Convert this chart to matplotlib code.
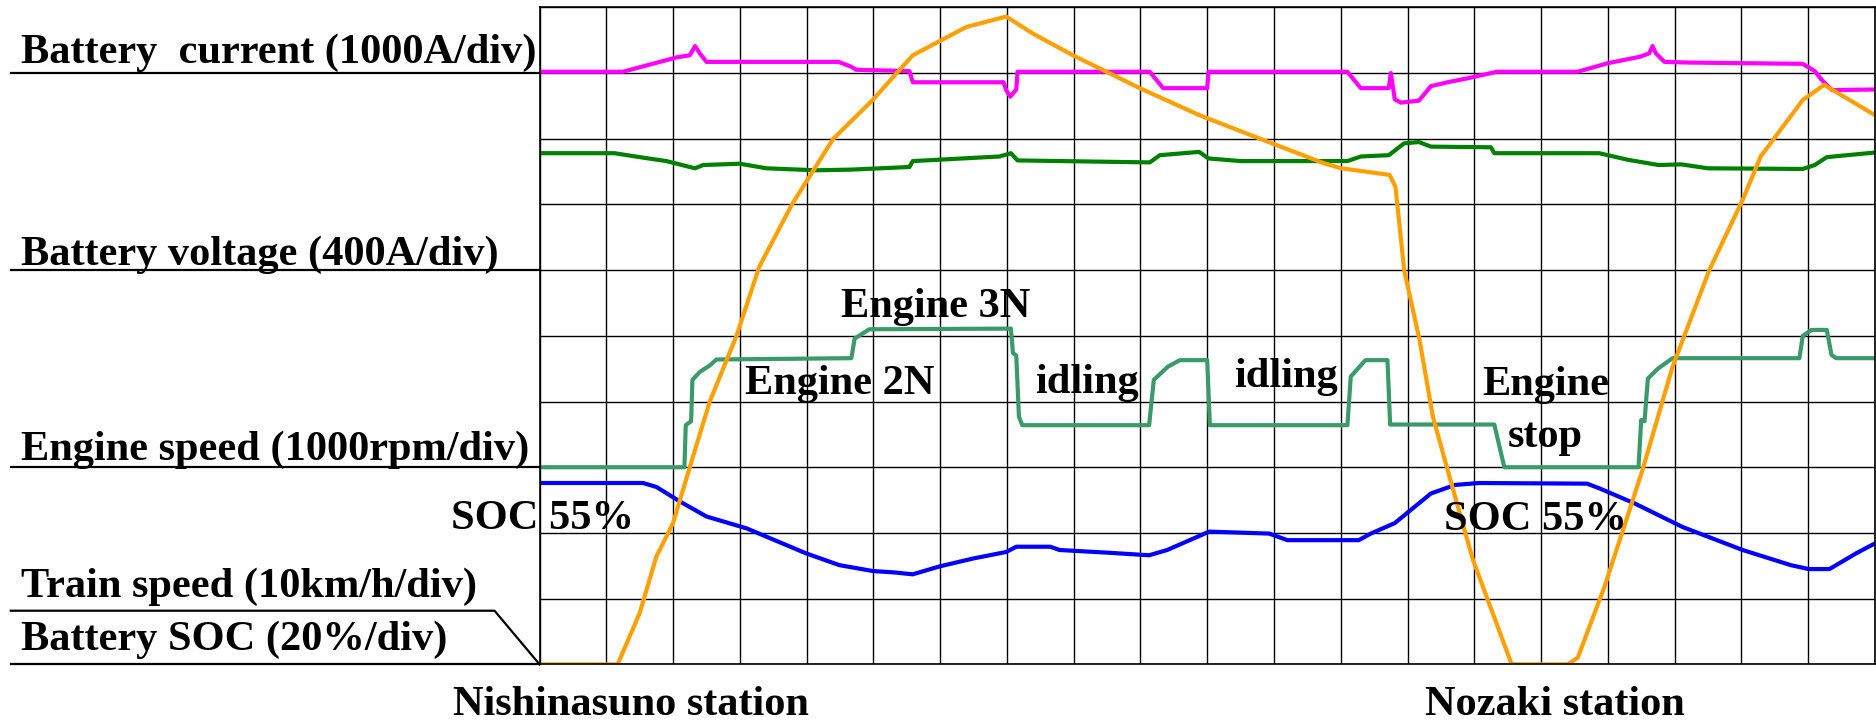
import matplotlib.pyplot as plt
import numpy as np

# time axis in grid divisions (20 across), values in divisions (10 high)
cur_x = [0, 1.25, 2.06, 2.25, 2.33, 2.40, 2.50, 3.0, 4.48, 4.66, 4.74, 5.54, 5.59, 6.95, 6.99, 7.05, 7.14,
         7.16, 9.14, 9.34, 10.0, 10.02, 12.10, 12.30, 12.72, 12.75, 12.81, 12.9, 13.17, 13.35, 13.6, 13.9,
         14.34, 15.55, 16.0, 16.49, 16.62, 16.67, 16.72, 16.85, 17.2, 18.92, 19.10, 19.20, 19.36, 20.0]
cur_y = [9.02, 9.02, 9.24, 9.27, 9.41, 9.30, 9.17, 9.17, 9.17, 9.10, 9.05, 9.03, 8.86, 8.86, 8.74, 8.64, 8.75,
         9.02, 9.02, 8.77, 8.77, 9.02, 9.02, 8.77, 8.77, 9.00, 8.60, 8.55, 8.58, 8.80, 8.86, 8.92,
         9.02, 9.02, 9.15, 9.25, 9.30, 9.41, 9.30, 9.17, 9.16, 9.14, 9.03, 8.90, 8.74, 8.75]

volt_x = [0, 1.12, 1.5, 1.9, 2.33, 2.45, 3.0, 3.40, 4.14, 4.66, 5.54, 5.59, 6.89, 7.06, 7.16, 9.14, 9.29,
          9.88, 10.02, 10.5, 12.10, 12.30, 12.72, 12.95, 13.17, 13.35, 14.25, 14.30, 15.87, 16.3, 16.76,
          17.1, 17.5, 18.92, 19.1, 19.28, 20.0]
volt_y = [7.78, 7.78, 7.72, 7.66, 7.55, 7.60, 7.62, 7.55, 7.52, 7.53, 7.57, 7.66, 7.73, 7.78, 7.67, 7.64, 7.75,
          7.80, 7.70, 7.66, 7.66, 7.73, 7.75, 7.93, 7.95, 7.88, 7.87, 7.78, 7.78, 7.68, 7.60,
          7.61, 7.55, 7.54, 7.60, 7.72, 7.79]

train_x = [0, 1.17, 1.50, 1.75, 2.0, 2.25, 2.55, 2.95, 3.29, 3.78, 4.40, 4.99, 5.35, 5.59, 6.39, 6.99, 7.39,
           7.99, 8.99, 9.88, 10.97, 11.74, 12.01, 12.73, 12.82, 12.95, 13.18, 13.38, 13.60, 13.98, 14.56,
           15.40, 15.55, 15.95, 16.31, 16.52, 16.97, 17.52, 18.02, 18.29, 18.92, 19.24, 20.0]
train_y = [0, 0, 0.78, 1.64, 2.15, 3.0, 4.0, 5.0, 6.05, 7.0, 8.0, 8.59, 9.0, 9.27, 9.70, 9.86, 9.60,
           9.27, 8.77, 8.36, 7.93, 7.63, 7.55, 7.45, 7.27, 6.0, 4.94, 3.77, 2.96, 1.59, 0,
           0, 0.1, 1.18, 2.30, 2.96, 4.53, 6.0, 7.07, 7.73, 8.59, 8.82, 8.36]

eng_x = [0, 2.17, 2.19, 2.27, 2.29, 2.40, 2.55, 2.65, 4.67, 4.72, 4.94, 7.06, 7.09, 7.14, 7.18, 7.23, 9.13,
         9.20, 9.41, 9.59, 10.0, 10.04, 12.10, 12.15, 12.37, 12.70, 12.74, 14.30, 14.45, 16.46, 16.50,
         16.55, 16.60, 16.75, 16.97, 18.87, 18.92, 19.05, 19.28, 19.35, 19.42, 20.0]
eng_y = [3.0, 3.0, 3.64, 3.70, 4.33, 4.45, 4.55, 4.64, 4.66, 4.96, 5.10, 5.11, 4.74, 4.70, 3.77, 3.64, 3.64,
         4.33, 4.53, 4.63, 4.63, 3.64, 3.64, 4.38, 4.63, 4.63, 3.65, 3.65, 3.0, 3.0, 3.72,
         3.70, 4.35, 4.50, 4.66, 4.66, 5.0, 5.09, 5.09, 4.71, 4.66, 4.66]

soc_x = [0, 1.55, 1.75, 2.10, 2.50, 3.10, 3.99, 4.49, 4.99, 5.3, 5.59, 5.99, 6.49, 6.99, 7.14, 7.65, 7.79,
         8.5, 9.13, 9.40, 10.03, 10.93, 11.20, 12.27, 12.45, 12.81, 13.35, 13.71, 14.07, 15.69, 15.87,
         16.40, 17.12, 18.02, 18.74, 19.01, 19.32, 19.72, 20.0]
soc_y = [2.76, 2.76, 2.70, 2.48, 2.25, 2.07, 1.69, 1.51, 1.42, 1.40, 1.37, 1.49, 1.61, 1.71, 1.79, 1.79, 1.74,
         1.70, 1.66, 1.74, 2.02, 1.99, 1.89, 1.89, 1.99, 2.15, 2.60, 2.73, 2.76, 2.75, 2.68,
         2.45, 2.09, 1.74, 1.51, 1.45, 1.45, 1.69, 1.84]

side_labels = ["Battery  current (1000A/div)", "Battery voltage (400A/div)",
               "Engine speed (1000rpm/div)", "Train speed (10km/h/div)", "Battery SOC (20%/div)"]
side_label_y = [9.15, 6.08, 3.11, 1.03, 0.22]
underline_y = [9, 6, 3, 0]

font = dict(fontfamily='Liberation Serif', fontweight='bold', fontsize=30.5)

fig = plt.figure(figsize=(18.76, 7.21), dpi=100)
ax = fig.add_axes([0.2876, 0.0786, 0.7118, 0.9112])
ax.set_xlim(0, 20)
ax.set_ylim(0, 10)
ax.set_xticks(range(21))
ax.set_yticks(range(11))
ax.tick_params(length=0, labelbottom=False, labelleft=False)
ax.grid(True, color='black', lw=1.0)
for s in ax.spines.values():
    s.set_linewidth(1.2)

ax.plot(eng_x, eng_y, color='#3A9A6A', lw=3.0)
ax.plot(volt_x, volt_y, color='#008000', lw=3.0)
ax.plot(cur_x, cur_y, color='#FF00FF', lw=3.0)
ax.plot(soc_x, soc_y, color='#0000FF', lw=3.0)
ax.plot(train_x, train_y, color='#FFA000', lw=3.0)

# labels on the left, each sitting on its own reference line
for name, y in zip(side_labels, side_label_y):
    ax.text(-7.77, y, name, ha='left', va='baseline', clip_on=False, **font)
for y in underline_y:
    ax.plot([-7.92, 0], [y, y], color='black', lw=1.6, clip_on=False)
ax.plot([-7.92, -0.674, 0], [0.816, 0.816, 0], color='black', lw=1.6, clip_on=False)

# annotations inside the chart
ax.text(4.52, 5.28, "Engine 3N", ha='left', va='baseline', **font)
ax.text(3.08, 4.11, "Engine 2N", ha='left', va='baseline', **font)
ax.text(7.43, 4.13, "idling", ha='left', va='baseline', **font)
ax.text(10.40, 4.22, "idling", ha='left', va='baseline', **font)
ax.text(15.07, 4.10, "Engine", ha='center', va='baseline', **font)
ax.text(15.07, 3.31, "stop", ha='center', va='baseline', **font)
ax.text(-1.33, 2.06, "SOC 55%", ha='left', va='baseline', clip_on=False, **font)
ax.text(13.54, 2.04, "SOC 55%", ha='left', va='baseline', **font)
ax.text(-1.29, -0.775, "Nishinasuno station", ha='left', va='baseline', clip_on=False, **font)
ax.text(13.26, -0.775, "Nozaki station", ha='left', va='baseline', clip_on=False, **font)

fig.savefig('out.png', dpi=100)
